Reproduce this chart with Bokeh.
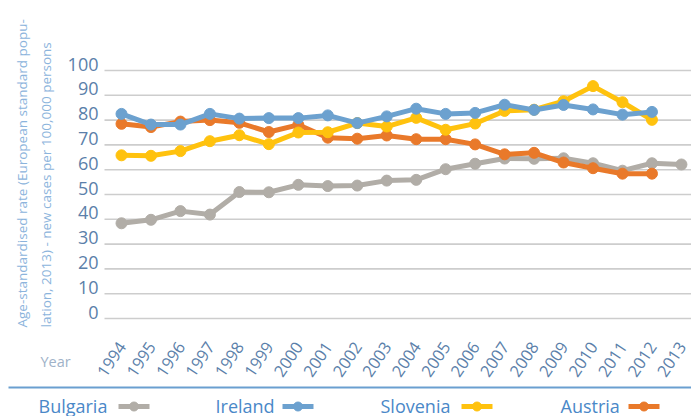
from math import pi
from bokeh.plotting import figure
from bokeh.models import Range1d, ColumnDataSource
from bokeh.embed import file_html
from bokeh.resources import INLINE
from bokeh.core.properties import value

# ---------------- data ----------------
years = list(range(1994, 2014))
bulgaria = [38.4, 39.8, 43.3, 41.9, 51.0, 50.9, 53.9, 53.4, 53.6, 55.6, 55.9, 60.2, 62.4, 64.5, 64.4, 64.6, 62.6, 59.6, 62.6, 62.1]
ireland = [82.5, 78.2, 78.2, 82.5, 80.6, 80.8, 80.8, 81.9, 78.8, 81.5, 84.6, 82.5, 82.9, 86.2, 84.1, 86.1, 84.3, 82.2, 83.3, None]
slovenia = [65.8, 65.6, 67.5, 71.5, 73.9, 70.3, 75.0, 75.1, 78.8, 77.4, 80.9, 76.1, 78.6, 83.7, 84.2, 87.6, 93.7, 87.2, 80.1, None]
austria = [78.5, 77.2, 79.4, 80.0, 78.9, 75.2, 78.1, 72.9, 72.5, 73.8, 72.3, 72.3, 70.2, 66.2, 66.8, 62.9, 60.6, 58.4, 58.4, None]

names = ["Bulgaria", "Ireland", "Slovenia", "Austria"]
series = [bulgaria, ireland, slovenia, austria]
yticks = list(range(0, 101, 10))
ytick_labels = [str(t) for t in yticks]
xtick_labels = [str(y) for y in years]
title_lines = ["Age-standardised rate (European standard popu-",
               "lation, 2013) - new cases per 100,000 persons"]
x_title = "Year"

# ---------------- style ----------------
colors = ["#b1ada7", "#6ca1cf", "#ffc20e", "#e9792a"]
FONT = "Open Sans"
TICK_COL = "#5b7faa"
W, H = 691, 416
X_PX = 29.47      # pixels per year
Y_PX = 2.48       # pixels per unit
X0_PX, Y0_PX = 121, 318   # pixel position of 1994 / value 0


def px_x(px):
    return years[0] + (px - X0_PX) / X_PX


def px_y(py):
    return (Y0_PX - py) / Y_PX


p = figure(width=W, height=H, output_backend="svg", toolbar_location=None,
           x_range=Range1d(px_x(0), px_x(W)), y_range=Range1d(px_y(H), px_y(0)),
           x_axis_type=None, y_axis_type=None,
           min_border_left=0, min_border_right=0, min_border_top=0, min_border_bottom=0)
p.outline_line_color = None
p.grid.visible = False

# horizontal grid lines at the y ticks
p.segment(x0=[px_x(104)] * len(yticks), x1=[px_x(W + 5)] * len(yticks), y0=yticks, y1=yticks,
          line_color="#cdcdcd", line_width=1.6)

# y tick labels (sitting just above their grid line)
p.text(x=[px_x(98)] * len(yticks), y=[t + 6.5 / Y_PX for t in yticks], text=ytick_labels,
       text_font=value(FONT), text_font_size="18px", text_color=TICK_COL,
       text_align="right", text_baseline="middle")

# x tick labels (rotated)
p.text(x=[y + 0.5 / X_PX for y in years], y=[px_y(343)] * len(years), text=xtick_labels,
       angle=0.98, text_font=value(FONT), text_font_size="16.5px", text_color=TICK_COL,
       text_align="right", text_baseline="middle")

# series
for i in [0, 3, 2, 1]:
    src = ColumnDataSource(dict(x=years, y=[v if v is not None else float("nan") for v in series[i]]))
    p.line("x", "y", source=src, line_color=colors[i], line_width=5)
    p.scatter("x", "y", source=src, size=11, fill_color=colors[i], line_color=colors[i], line_width=1)

# y axis title (two rotated lines)
p.text(x=[px_x(21), px_x(45)], y=[px_y(327)] * 2, text=title_lines, angle=pi / 2,
       text_font=value(FONT), text_font_size="13.5px", text_color="#8cb4dc",
       text_align="left", text_baseline="middle")

# "Year"
p.text(x=[px_x(40)], y=[px_y(361)], text=[x_title], text_font=value(FONT),
       text_font_size="14.5px", text_color="#a0b2c8", text_align="left", text_baseline="middle")

# separator line above legend
p.segment(x0=[px_x(8)], x1=[px_x(W + 5)], y0=[px_y(387)], y1=[px_y(387)],
          line_color="#6a9fd0", line_width=2)

# legend (text followed by marker)
text_px = [38, 215, 380, 560]
mark_px = [118, 282, 461, 628]
p.text(x=[px_x(t) for t in text_px], y=[px_y(405)] * 4, text=names,
       text_font=value(FONT), text_font_size="18px", text_color="#4a88c8",
       text_align="left", text_baseline="middle")
p.segment(x0=[px_x(m) for m in mark_px], x1=[px_x(m + 31) for m in mark_px],
          y0=[px_y(406)] * 4, y1=[px_y(406)] * 4, line_color=colors, line_width=5)
p.scatter(x=[px_x(m + 15.5) for m in mark_px], y=[px_y(406)] * 4, size=9,
          fill_color=colors, line_color=colors)

open("out.html", "w").write(file_html(p, INLINE))
